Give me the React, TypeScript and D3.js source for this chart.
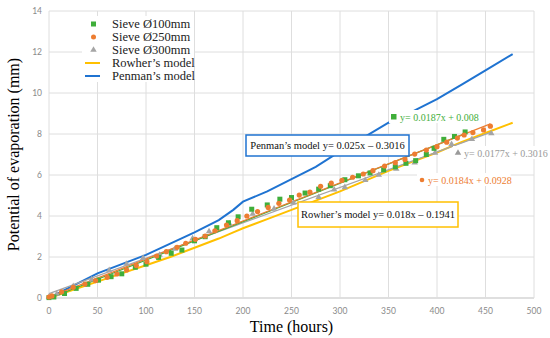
import React, { useEffect, useRef } from 'react';
import * as d3 from 'd3';

// measured sieve data (hours, mm)
const sieve100: [number, number][] = [
  [0, 0.02], [5, 0.05], [16, 0.22], [28, 0.47], [40, 0.67], [51, 0.87], [64, 1.04], [75, 1.18],
  [89, 1.5], [100, 1.65], [113, 1.98], [126, 2.18], [137, 2.34], [150, 2.79], [161, 2.99],
  [173, 3.43], [185, 3.67], [195, 3.96], [209, 4.33], [225, 4.54], [238, 4.82], [250, 4.9],
  [264, 5.12], [278, 5.31], [290, 5.48], [305, 5.77], [319, 5.96], [331, 6.1], [345, 6.25],
  [357, 6.4], [368, 6.57], [378, 6.7], [389, 7.0], [397, 7.3], [407, 7.74], [418, 7.88], [429, 8.1],
];

const sieve250: [number, number][] = [
  [0, 0.05], [3, 0.1], [13, 0.3], [25, 0.52], [37, 0.68], [48, 0.85], [60, 1.01], [70, 1.17],
  [80, 1.37], [90, 1.58], [101, 1.77], [111, 2.05], [121, 2.26], [132, 2.47], [141, 2.67],
  [151, 2.86], [161, 3.02], [171, 3.28], [183, 3.56], [194, 3.77], [204, 4.0], [215, 4.22],
  [226, 4.42], [237, 4.62], [248, 4.78], [258, 5.02], [269, 5.16], [280, 5.45], [291, 5.6],
  [302, 5.74], [313, 5.89], [324, 6.05], [334, 6.21], [346, 6.44], [357, 6.6], [367, 6.76],
  [377, 7.02], [389, 7.22], [400, 7.38], [410, 7.6], [421, 7.8], [428, 7.95], [437, 8.07],
  [448, 8.2], [455, 8.38],
];

const sieve300: [number, number][] = [
  [0, 0.05], [8, 0.2], [25, 0.57], [44, 0.9], [62, 1.35], [80, 1.66], [97, 1.95], [114, 2.1],
  [130, 2.4], [148, 2.9], [165, 3.25], [186, 3.62], [210, 4.1], [232, 4.35], [252, 4.65],
  [278, 4.92], [294, 5.28], [305, 5.4], [326, 5.75], [340, 6.0], [358, 6.3], [377, 6.6],
  [398, 7.08], [415, 7.5], [436, 7.75], [456, 8.03],
];

const penman: [number, number][] = [
  [0, 0], [25, 0.6], [50, 1.2], [75, 1.65], [100, 2.1], [125, 2.65], [150, 3.2], [175, 3.8],
  [190, 4.3], [200, 4.7], [225, 5.2], [250, 5.8], [275, 6.4], [300, 7.15], [325, 7.85],
  [350, 8.55], [375, 9.1], [400, 9.7], [425, 10.4], [450, 11.1], [478, 11.9],
];

const rowher: [number, number][] = [
  [0, 0], [25, 0.4], [50, 0.8], [75, 1.2], [100, 1.6], [125, 2.0], [150, 2.45], [175, 2.9],
  [190, 3.2], [200, 3.4], [225, 3.85], [250, 4.3], [275, 4.75], [300, 5.2], [325, 5.7],
  [350, 6.2], [375, 6.65], [400, 7.1], [425, 7.6], [450, 8.05], [478, 8.55],
];

const xTicks = [0, 50, 100, 150, 200, 250, 300, 350, 400, 450, 500];
const yTicks = [0, 2, 4, 6, 8, 10, 12, 14];

const GREEN = '#3fae3a';
const ORANGE = '#ed7d31';
const GRAY = '#a5a5a5';
const YELLOW = '#ffc000';
const BLUE = '#1f73d1';
const SERIF = '"Liberation Serif", "DejaVu Serif", serif';

function fit(pts: [number, number][]) {
  const mx = d3.mean(pts, d => d[0])!;
  const my = d3.mean(pts, d => d[1])!;
  const sxy = d3.sum(pts, d => (d[0] - mx) * (d[1] - my));
  const sxx = d3.sum(pts, d => (d[0] - mx) ** 2);
  const slope = sxy / sxx;
  return { slope, icpt: my - slope * mx, max: d3.max(pts, d => d[0])! };
}

export default function App() {
  const ref = useRef<SVGSVGElement>(null);

  useEffect(() => {
    const width = 550, height = 338;
    const m = { left: 49, right: 16, top: 11, bottom: 40 };
    const svg = d3.select(ref.current);
    svg.selectAll('*').remove();

    const x = d3.scaleLinear().domain([0, 500]).range([m.left, width - m.right]);
    const y = d3.scaleLinear().domain([0, 14]).range([height - m.bottom, m.top]);

    // grid
    svg.append('g').selectAll('line').data(yTicks).enter().append('line')
      .attr('x1', x(0)).attr('x2', x(500))
      .attr('y1', d => y(d)).attr('y2', d => y(d))
      .attr('stroke', d => d === 0 ? '#bfbfbf' : '#dedede').attr('stroke-width', 1);
    svg.append('g').selectAll('line').data(xTicks).enter().append('line')
      .attr('x1', d => x(d)).attr('x2', d => x(d))
      .attr('y1', y(0)).attr('y2', y(14))
      .attr('stroke', '#dedede').attr('stroke-width', 1);

    // tick labels
    svg.append('g').selectAll('text').data(yTicks).enter().append('text')
      .attr('x', x(0) - 7).attr('y', d => y(d) + 3)
      .attr('text-anchor', 'end').attr('font-size', 8.5)
      .attr('font-family', 'Lato, sans-serif').attr('fill', '#8a8a8a')
      .text(d => d);
    svg.append('g').selectAll('text').data(xTicks).enter().append('text')
      .attr('x', d => x(d)).attr('y', y(0) + 16)
      .attr('text-anchor', 'middle').attr('font-size', 8.5)
      .attr('font-family', 'Lato, sans-serif').attr('fill', '#8a8a8a')
      .text(d => d);

    // axis titles
    svg.append('text')
      .attr('transform', `translate(19,${(y(0) + y(14)) / 2}) rotate(-90)`)
      .attr('text-anchor', 'middle').attr('font-size', 16).attr('font-family', SERIF)
      .text('Potential of evaporation (mm)');
    svg.append('text')
      .attr('x', (x(0) + x(500)) / 2).attr('y', 332)
      .attr('text-anchor', 'middle').attr('font-size', 16).attr('font-family', SERIF)
      .text('Time (hours)');

    const line = d3.line<[number, number]>().x(d => x(d[0])).y(d => y(d[1]));

    // model lines
    svg.append('path').datum(rowher).attr('d', line)
      .attr('fill', 'none').attr('stroke', YELLOW).attr('stroke-width', 2);
    svg.append('path').datum(penman).attr('d', line)
      .attr('fill', 'none').attr('stroke', BLUE).attr('stroke-width', 2);

    // trend lines
    const trends: [[number, number][], string][] = [[sieve300, GRAY], [sieve100, GREEN], [sieve250, ORANGE]];
    trends.forEach(([pts, c]) => {
      const f = fit(pts);
      svg.append('path').datum([[0, f.icpt], [f.max, f.icpt + f.slope * f.max]] as [number, number][])
        .attr('d', line).attr('fill', 'none').attr('stroke', c).attr('stroke-width', 1.2);
    });

    // markers
    const tri = d3.symbol().type(d3.symbolTriangle).size(18);
    svg.append('g').selectAll('path').data(sieve300).enter().append('path')
      .attr('d', tri).attr('transform', d => `translate(${x(d[0])},${y(d[1])})`)
      .attr('fill', GRAY);
    svg.append('g').selectAll('rect').data(sieve100).enter().append('rect')
      .attr('x', d => x(d[0]) - 2.5).attr('y', d => y(d[1]) - 2.5)
      .attr('width', 5).attr('height', 5).attr('fill', GREEN);
    svg.append('g').selectAll('circle').data(sieve250).enter().append('circle')
      .attr('cx', d => x(d[0])).attr('cy', d => y(d[1])).attr('r', 2.6)
      .attr('fill', ORANGE);

    // legend
    const lg = svg.append('g');
    lg.append('rect').attr('x', 82).attr('y', 16).attr('width', 112).attr('height', 66).attr('fill', '#fff');
    const items = [
      { label: 'Sieve Ø100mm', kind: 'square', c: GREEN },
      { label: 'Sieve Ø250mm', kind: 'circle', c: ORANGE },
      { label: 'Sieve Ø300mm', kind: 'tri', c: GRAY },
      { label: 'Rowher’s model', kind: 'line', c: YELLOW },
      { label: 'Penman’s model', kind: 'line', c: BLUE },
    ];
    items.forEach((it, i) => {
      const cy = 24 + i * 13;
      if (it.kind === 'square') lg.append('rect').attr('x', 91).attr('y', cy - 2.5).attr('width', 5).attr('height', 5).attr('fill', it.c);
      if (it.kind === 'circle') lg.append('circle').attr('cx', 93.5).attr('cy', cy).attr('r', 2.5).attr('fill', it.c);
      if (it.kind === 'tri') lg.append('path').attr('d', tri).attr('transform', `translate(93.5,${cy})`).attr('fill', it.c);
      if (it.kind === 'line') lg.append('line').attr('x1', 85).attr('x2', 100).attr('y1', cy).attr('y2', cy).attr('stroke', it.c).attr('stroke-width', 2);
      lg.append('text').attr('x', 112).attr('y', cy + 4).attr('font-size', 12.5)
        .attr('font-family', SERIF).attr('fill', '#222').text(it.label);
    });

    // boxed model annotations
    const box = (bx: number, by: number, bw: number, bh: number, c: string, t: string) => {
      svg.append('rect').attr('x', bx).attr('y', by).attr('width', bw).attr('height', bh)
        .attr('fill', '#fff').attr('stroke', c).attr('stroke-width', 1.5);
      svg.append('text').attr('x', bx + bw / 2).attr('y', by + bh / 2 + 3.5)
        .attr('text-anchor', 'middle').attr('font-size', 10.5).attr('font-family', SERIF)
        .attr('fill', '#111').text(t);
    };
    box(246, 135, 163, 21, BLUE, 'Penman’s model y= 0.025x – 0.3016');
    box(298, 202, 160, 25, YELLOW, 'Rowher’s model y= 0.018x – 0.1941');

    // trendline equation labels
    const lab = (lx: number, ly: number, c: string, kind: string, t: string) => {
      const g = svg.append('g');
      g.append('rect').attr('x', lx - 5).attr('y', ly - 7).attr('width', t.length * 4.4 + 10).attr('height', 13).attr('fill', '#fff');
      if (kind === 'square') g.append('rect').attr('x', lx - 3).attr('y', ly - 3).attr('width', 5.5).attr('height', 5.5).attr('fill', c);
      if (kind === 'circle') g.append('circle').attr('cx', lx).attr('cy', ly).attr('r', 2.3).attr('fill', c);
      if (kind === 'tri') g.append('path').attr('d', tri).attr('transform', `translate(${lx},${ly})`).attr('fill', c);
      g.append('text').attr('x', lx + 6).attr('y', ly + 3.5).attr('font-size', 10)
        .attr('font-family', SERIF).attr('fill', c).text(t);
    };
    lab(394, 117, GREEN, 'square', 'y= 0.0187x + 0.008');
    lab(458, 153, '#9a9a9a', 'tri', 'y= 0.0177x + 0.3016');
    lab(422, 180, ORANGE, 'circle', 'y= 0.0184x + 0.0928');
  }, []);

  return (
    <svg ref={ref} width={550} height={338}
      style={{ position: 'absolute', left: 0, top: 0, background: '#fff' }} />
  );
}
